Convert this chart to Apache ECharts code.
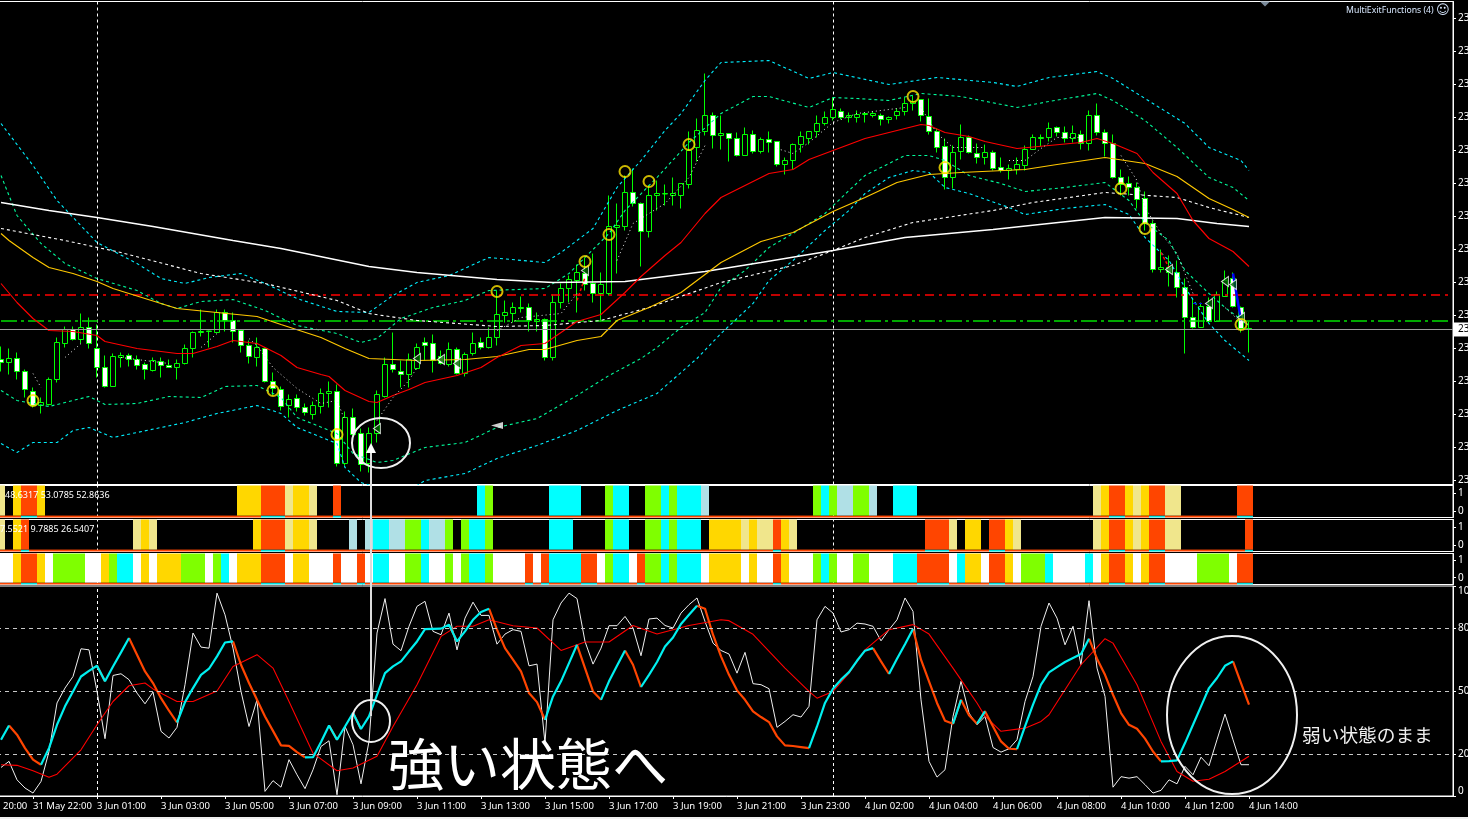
<!DOCTYPE html>
<html><head><meta charset="utf-8">
<style>html,body{margin:0;padding:0;background:#000;overflow:hidden}#c{width:1468px;height:819px}</style>
<script src="https://cdn.jsdelivr.net/npm/echarts@6/dist/echarts.min.js"></script>
</head><body><div id="c"></div>
<script>
// 15-minute bars, index 0..156; prices are in chart points above the panel floor (the reference's price labels are cut off at "23")
const candles=[[123,120,111,136],[120,124,108,134],[124,111,103,130],[111,93,85,113],[91,77,75,95],[77,80,69,85],[78,103,77,105],[103,140,100,145],[139,153,135,156],[153,143,142,156],
[143,155,139,169],[155,139,134,165],[134,115,105,158],[115,96,95,127],[96,126,96,129],[125,127,115,130],[127,123,116,129],[123,117,113,127],[118,113,103,120],[112,122,111,125],
[121,117,105,125],[117,115,115,123],[115,119,103,123],[119,134,118,138],[134,150,125,151],[150,151,146,173],[151,151.5,135,152],[150,170,150,173],[170,162,151,173],[162,151,140,170],
[152,137,130,153],[137,126,119,142],[125,135,116,145],[134,101,100,135],[101,94,87,110],[93,76,72,96],[77,83,65,88],[84,75,71,88],[75,70,67,79],[68,77,63,81],
[76,89,69,94],[89,91,75,101],[91,19,16,98],[19,65,17,71],[65,48,45,74],[49,18,11,54],[19,49,10,55],[49,88,40,92],[86,118,85,125],[118,113,110,150],
[111,108,95,122],[108,123,95,129],[114,135,113,139],[140,137,122,145],[139,122,110,148],[126,119,118,132],[118,133,116,140],[133,109,108,135],[109,128,106,130],[129,139,127,150],
[140,135,133,145],[135,145,134,155],[145,168,137,192],[167,170,160,182],[169,175,160,180],[174,175,170,186],[175,162,151,179],[161,163,151,170],[163,125,122,164],[125,180,122,188],
[180,194,174,199],[194,203,180,207],[202,210,170,218],[209,198,192,225],[199,189,180,229],[189,198,161,210],[189,256,187,287],[255,257,209,279],[256,290,252,307],[290,279,276,314],
[279,251,216,280],[251,287,245,297],[287,289,272,302],[288.5,289,277,298],[287,289,277,305],[287,299,274,299],[298,332,294,351],[335,352,321,364],[351,367,347,409],[367,347,334,370],
[347,349,333,367],[349,344,321,349],[344,327,326,350],[327,348,327,355],[348,331,329,352],[331,343,329,345],[343,340,330,351],[341,318,316,341],[318,322,308,325],[322,338,313,339],
[338,346,330,351],[344,351,338,351],[351,359,345,367],[359,365,357,371],[365,373,362,385],[371,365,363,374],[365,367,360,370],[365,368,360,372],[368,369,360,369.5],[367,369,365,371],
[367,363,357,369],[363,365,359,366],[367,371,363,374],[371,379,367,385],[379,381,372,387],[383,367,361,383],[366,351,348,384],[351,335,330,354],[336,305,293,344],[305,330,294,337],
[331,345,323,358],[345,330,329,347],[329,325,319,339],[325,330,318,338],[330,314,312,332],[315,312,310,325],[312,314,303,318],[313,318,308,325],[317,333,312,337],[333,345,333,348],
[344,345,336,348],[345,354,341,360],[355,350,346,356],[350,344,340,356],[344,349,340,357],[348,339,333,352],[339,367,332,372],[367,350,347,379],[350,339,326,353],[339,305,304,348],
[305,298,287,313],[299,295,287,306],[295,283,274,300],[284,259,252,291],[259,213,210,262],[213,215,210,233],[215,210,196,227],[210,195,185,222],[195,165,129,204],[165,155,154,184],
[155,176,155,180],[176,161,161,185],[161,188,161,191],[186,202,186,212],[204,176,175,210],[175,154,150,176],[154,153,130,161]];

// moving averages and bands: [bar, price] readings
const maRed=[[0,199],[2,180],[4,164],[6,152],[9,151],[12,147],[13,141],[17,134],[22,129],[24,129],[27,136],[29,142],[32,139],[35,127],[37,115],[40,108],[41,106],[43,92],[46,81],[47,80],[49,87],[51,93],[53,100],[57,107],[60,115],[62,125],[65,137],[68,139],[72,161],[75,168],[78,190],[80,206],[83,227],[85,240],[88,269],[90,285],[94,301],[96,309],[99,313],[101,323],[104,332],[108,344],[112,352],[115,358],[116,357],[118,350],[121,346],[123,341],[127,334],[131,337],[135,340],[137,344],[139,339],[142,329],[144,310],[147,289],[149,262],[151,244],[154,231],[156,216]];
const maGold=[[0,249],[1,242],[4,225],[6,215],[9,209],[12,201],[14,194],[18,184],[22,174],[27,170],[32,166],[35,158],[40,145],[43,134],[46,124],[52,122],[58,123],[62,126],[66,133],[68,133],[72,142],[75,146],[77,162],[81,175],[85,190],[90,220],[95,241],[99,250],[104,271],[108,285],[112,300],[116,308],[120,310],[128,313],[132,318],[138,325],[143,319],[147,306],[151,284],[154,273],[156,265]];
const maWhite=[[0,280],[6,272],[12,265],[19,256],[29,242],[35,234],[46,216],[52,210],[62,203],[69,200],[78,201],[88,211],[95,220],[104,232],[113,245],[124,253],[131,259],[138,265],[147,264],[152,259],[156,256]];
const maWhiteDash=[[0,254],[8,242],[15,230],[25,209],[33,199],[42,182],[46,169],[52,162],[62,156],[68,157],[75,162],[81,175],[90,200],[99,217],[104,232],[108,245],[114,260],[124,272],[129,280],[138,290],[147,285],[151,275],[156,265]];
const bandUpGreen=[[0,307],[2,267],[5,239],[8,219],[12,204],[17,192],[20,179],[22,174],[25,181],[29,183],[33,172],[37,157],[42,149],[45,140],[47,144],[50,164],[54,175],[58,182],[61,192],[68,194],[71,209],[76,249],[78,272],[81,297],[82,305],[86,340],[90,369],[94,386],[96,386],[101,375],[104,385],[107,384],[111,382],[115,389],[120,386],[127,375],[131,381],[137,389],[139,382],[143,362],[147,335],[151,305],[154,295],[156,282]];
const bandUpCyan=[[0,359],[4,317],[7,282],[12,240],[17,219],[20,204],[23,199],[26,205],[30,209],[33,199],[37,184],[42,171],[46,170],[49,187],[52,200],[56,207],[61,225],[68,220],[70,230],[74,254],[77,295],[80,322],[83,352],[85,369],[88,402],[90,420],[96,422],[101,404],[104,410],[111,398],[117,405],[124,400],[127,396],[131,405],[137,411],[139,404],[144,379],[148,359],[151,335],[155,322],[156,312]];
const bandLowGreen=[[0,92],[2,82],[6,76],[11,86],[13,78],[17,79],[21,86],[25,85],[28,96],[32,97],[35,85],[37,65],[42,49],[44,29],[47,20],[49,22],[53,35],[58,40],[62,55],[67,64],[72,87],[76,107],[80,124],[82,135],[85,155],[88,170],[90,195],[93,212],[96,235],[99,249],[103,269],[106,292],[108,307],[113,327],[116,327],[118,322],[121,307],[125,299],[128,291],[133,295],[138,300],[141,282],[143,260],[146,242],[148,212],[151,189],[153,175],[156,157]];
const bandLowCyan=[[0,39],[2,30],[4,40],[7,40],[9,52],[11,55],[14,45],[17,50],[23,60],[27,69],[32,77],[35,69],[37,55],[42,39],[43,15],[45,0],[50,-13],[53,2],[58,9],[62,24],[67,37],[72,52],[77,72],[82,89],[87,124],[90,149],[94,179],[96,202],[99,222],[103,252],[106,272],[108,289],[111,305],[114,312],[116,310],[118,295],[121,289],[126,275],[128,268],[133,274],[138,278],[141,268],[143,245],[146,222],[148,195],[151,159],[153,142],[156,122]];
const fastDotsRuns=[[[4,109],[5,95]],[[8,125],[10,139]],[[15,125],[21,119]],[[25,135],[27,149]],[[31,144],[32,137],[34,115],[37,94],[40,79],[42,82],[43,62]],[[47,62],[49,85],[51,102],[52,115]],[[62,152],[65,165],[70,169],[72,189]],[[77,222],[79,259],[83,279],[86,305],[88,337]],[[97,334],[99,329],[101,340],[104,360],[107,369],[113,375]],[[115,375],[117,349],[119,335],[123,335]],[[126,322],[128,322],[130,334],[132,345],[135,345]],[[140,327],[142,302],[143,275],[145,249],[147,229],[149,189]],[[153,175],[155,160]]];
const zigBlue=[[154,209],[155,162]], zigBlueLow=[[149,179],[151,179]], zigRedA=[[72,182],[73,205]], zigRedB=[[145,230],[146,215]];
const yellowRings=[[4,82],[34,92],[42,48],[62,191],[73,221],[76,248],[78,311],[81,301],[86,338],[114,386],[118,315],[140,294],[143,254],[155,158]];
const smallArrows=[[47,54],[52,124],[55,123],[57,119],[73,212],[146,213],[151,179],[153,201],[154,198],[155,165]];
const bigArrow=[[62,57]];
const levelRed=187.5, levelGreen=161.5, levelLast=153;
const priceTicks=[464,431,398,365,332,299,266,233,200,167,134,101,68,35,2];
const priceTickText='23';

// strips: run-length state per bar. K khaki, G gold, R orange-red, L lime, C cyan, B powder blue, W white, . none
const strip1Runs=".0 K1 .1 G1 R2 G1 .24 G3 R3 K1 G2 K1 .2 R1 .17 C1 L1 .7 C4 .3 L1 C2 .2 L2 C1 L1 C3 B1 .13 L1 C1 L1 B2 L2 B1 .2 C3 .22 K1 G1 R2 G1 K1 G1 R2 K2 .7 R2";
const strip2Runs="K1 .1 G1 R1 .13 K1 G1 K1 .12 G1 R3 K1 G2 K1 .4 B1 .1 B1 C2 B2 L2 C1 B2 L1 .1 L1 C2 L1 .7 C3 .4 L1 C2 .2 L2 C1 L1 C3 .1 G4 K1 G1 K2 R1 G1 K1 .16 R3 K1 .1 G2 .1 R2 G1 K1 .9 K1 G1 R2 G1 K1 G1 R2 K2 .8 R1";
const strip3Runs="W2 G1 R2 G1 W1 L4 W2 G1 L1 C2 W1 G1 W1 G3 L3 W1 L1 C1 W1 G3 R3 W1 G2 W3 R1 W2 R1 W1 C2 W2 L2 C1 W2 L1 W1 L1 C2 L1 W4 R1 W1 R1 C4 R2 W1 L1 C2 W1 R1 L2 C1 L1 C3 W1 G4 W1 G1 W2 R1 G1 W3 L1 C1 L1 W2 L2 W3 C3 R4 W1 C1 G2 W1 R2 G1 W1 L3 C1 W4 C1 W1 G1 R2 G1 W1 G1 R2 W4 L4 W1 R2";
const stripText1='48.6317 53.0785 52.8636', stripText2='7.5521 9.7885 26.5407';

// stochastic panel
const stochWhite=[13.6,16.5,7.7,3.8,1.4,6.9,21.2,44.3,51.4,56.9,70.1,69.6,49.8,27.3,57.4,58.2,55.4,49,43.9,49.5,30.8,27.6,32.7,53,77.6,70.9,70.4,96.6,86.3,70.4,49.8,33.1,45.8,2.2,7.3,4.2,17.3,10.1,3.5,12.5,23.6,26.3,0.6,33.1,24.4,5.8,26,77.6,94,72.3,69.2,80.8,90.3,92.7,78.4,76.8,87.1,69.6,84.7,92.3,86,86,72.3,77.1,79.2,78.4,62,62.8,25.2,83.9,91.9,96.6,94,73.6,62.8,70.4,81.1,81.1,85.5,80,66.8,84.3,84.7,81.2,80,87.1,91.1,94.3,83.1,72.8,69.3,67.6,58.5,68.4,53.5,53,51.1,32.7,35.5,38.7,37.6,42.7,83.9,90.3,87.1,78.1,79.2,82.3,81.9,80.8,73.9,79.2,83.9,94.3,87.9,45.8,16.5,9,12.5,37.9,54.6,39.5,33.9,37.9,23.1,20.9,22.5,26.8,45,56.9,80.8,91.9,84.7,72,80.8,62.5,93,60.9,47.4,4.2,9.2,8.5,9.2,5.4,1.4,2.7,7.7,5.8,14.1,10.1,18.5,14.4,26.8,39,26.8,14.9,14.9];
const stochSignal=[26.8,33.6,29.2,22.8,17.3,14.9,22.8,33.9,42.7,49.8,56.9,59.6,62,54.6,61.7,68.4,75.2,67.3,59.3,53.8,46.6,40.6,35,44.7,51.4,57.7,60.6,66.5,73.1,73.6,62.5,53.8,45.8,37.9,31,24.1,23.9,20.9,18.4,18.5,25.7,33.6,26.8,33.1,39.5,31.9,37.9,48.2,58.5,61.7,64.1,68.9,73.6,79.5,79.6,79.7,81.6,73.6,78.4,83.9,87.6,89.2,79.2,70.4,64.9,59.3,49,44.7,36.3,47.4,54.6,63.3,72,60.9,49.8,45.8,54.6,62,69.3,62.5,51.9,57.7,63.8,71.2,75.5,81.9,86.3,90.6,89.2,76.8,66.5,57.7,50.3,45.8,40.3,37.6,35.2,28.4,24.1,23.8,23.3,22.8,33.1,44.3,51.1,55.4,59,64.4,69.2,70.4,64.1,58.1,65.4,72.3,79.5,64.9,54.6,44.3,35.8,34.4,45.8,38.4,34.4,40.3,33.1,26,22.5,22.3,33.1,43.5,53,58.9,61.4,63.8,65.7,67.6,74.9,65.4,57.7,48.2,39.5,33.9,32,27.3,21.2,16.5,16.6,17,25.2,33.9,42.7,51.4,56.2,62,64.1,53.8,43.5];
const stochSlow=[[0,14.9],[2,14.6],[4,12],[6,8.9],[7,10.4],[10,22],[12,33.9],[14,45],[16,52.5],[18,53.8],[19,51],[22,45],[24,45],[27,50],[29,61.7],[32,67.3],[34,60.9],[36,45],[39,20.4],[42,12],[44,13.3],[47,18.9],[49,33.1],[52,53],[55,76],[57,80.8],[59,80.8],[61,83.9],[62,83],[64,81.1],[67,80],[70,69.3],[73,73.3],[76,73.3],[79,81.2],[82,77.1],[86,81.2],[90,83.9],[91,83.5],[94,77],[98,60.9],[101,49.8],[102,46.6],[104,49.8],[106,58.5],[108,69.6],[111,79.2],[114,81.6],[116,77.1],[119,60.9],[121,49.8],[122,44.3],[123,38],[125,30.8],[128,32.3],[130,35.5],[131,38.7],[135,62.5],[138,74.9],[139,72.8],[142,53],[145,26],[147,11.7],[149,7],[151,8],[153,11.7],[156,18.9]];
const stochLevels=[80,50,20];
const stochTicks=[0,20,50,80,100];

// time axis
const barSlots=182;
const timeLabels={4:'31 May 22:00',12:'3 Jun 01:00',20:'3 Jun 03:00',28:'3 Jun 05:00',36:'3 Jun 07:00',44:'3 Jun 09:00',52:'3 Jun 11:00',60:'3 Jun 13:00',68:'3 Jun 15:00',76:'3 Jun 17:00',84:'3 Jun 19:00',92:'3 Jun 21:00',100:'3 Jun 23:00',108:'4 Jun 02:00',116:'4 Jun 04:00',124:'4 Jun 06:00',132:'4 Jun 08:00',140:'4 Jun 10:00',148:'4 Jun 12:00',156:'4 Jun 14:00'};
const dayBreaks=[12,104];

const FONT='"Noto Sans"';
const CJK='"Noto Sans CJK JP"';
const palette={K:'#f0e68c',G:'#ffd700',R:'#ff4500',L:'#7fff00',C:'#00ffff',B:'#b0e0e6',W:'#ffffff','.':'#000000'};
const expand=s=>s.trim().split(/\s+/).flatMap(t=>Array(+t.slice(1)).fill(t[0]));
const categories=Array.from({length:barSlots},(_,i)=>String(i));

const panels=[{top:1.5,height:483},{top:485.5,height:32},{top:519.5,height:32},{top:553.5,height:31},{top:586,height:210}];
const grid=panels.map(p=>({left:-3,width:1456,top:p.top,height:p.height,show:true,backgroundColor:'#000',borderColor:'#fff',borderWidth:1,containLabel:false,outerBoundsMode:'none'}));
const xAxis=panels.map((p,i)=>({gridIndex:i,type:'category',data:categories,boundaryGap:true,show:i===4,
  axisLine:{lineStyle:{color:'#fff'}},
  axisTick:{show:i===4,alignWithLabel:true,length:3,interval:k=>timeLabels[k]!==undefined,lineStyle:{color:'#fff'}},
  axisLabel:{show:i===4,interval:k=>timeLabels[k]!==undefined,formatter:(v)=>timeLabels[v]||'',align:'left',color:'#fff',fontFamily:FONT,fontSize:9.5,margin:5},
  splitLine:{show:false}}));
const tickStyle={show:true,length:3,lineStyle:{color:'#fff'}};
const yAxis=[
 {gridIndex:0,type:'value',position:'right',min:-2,max:481,scale:true,splitLine:{show:false},axisLine:{show:true,lineStyle:{color:'#fff'}},
  axisTick:{...tickStyle,customValues:priceTicks},axisLabel:{customValues:priceTicks,formatter:()=>priceTickText,color:'#fff',fontFamily:FONT,fontSize:10,margin:5}}
];
const stripAxes=[[-0.38,1.44],[-0.38,1.44],[-0.4,1.42]];
stripAxes.forEach((r,i)=>{
  yAxis.push({gridIndex:i+1,type:'value',position:'right',min:r[0],max:r[1],splitLine:{show:false},axisLine:{show:true,lineStyle:{color:'#fff'}},
    axisTick:{...tickStyle,customValues:[0,1]},axisLabel:{customValues:[0,1],formatter:v=>String(Math.round(v)),color:'#fff',fontFamily:FONT,fontSize:10,margin:5}});
});
yAxis.push({gridIndex:4,type:'value',position:'right',min:0,max:100,splitLine:{show:false},axisLine:{show:true,lineStyle:{color:'#fff'}},
  axisTick:{...tickStyle,customValues:stochTicks},axisLabel:{customValues:stochTicks,color:'#fff',fontFamily:FONT,fontSize:10,margin:5,verticalAlignMinLabel:'bottom',verticalAlignMaxLabel:'top'}});
// hidden 0..1 axes that carry the strip bars (indices 5,6,7)
[1,2,3].forEach(g=>yAxis.push({gridIndex:g,type:'value',min:0,max:1,show:false,splitLine:{show:false}}));

const line=(data,color,extra={})=>Object.assign({type:'line',xAxisIndex:0,yAxisIndex:0,data,showSymbol:false,silent:true,animation:false,z:3,
  lineStyle:{color,width:1,type:'solid'}},extra);
const dashed=(data,color)=>line(data,color,{lineStyle:{color,width:1.1,type:[3,3]}});

const series=[];
// day-break verticals under everything
panels.forEach((p,i)=>{
  const yi=i===0?0:(i===4?4:i);
  series.push({type:'line',xAxisIndex:i,yAxisIndex:yi,data:[],z:1,silent:true,animation:false,
    markLine:{silent:true,symbol:'none',animation:false,z:1,label:{show:false},lineStyle:{color:'#fff',type:[3,3],width:1},data:dayBreaks.map(k=>({xAxis:String(k)}))}});
});
series.push({type:'candlestick',xAxisIndex:0,yAxisIndex:0,data:candles,barWidth:5,silent:true,animation:false,z:2,
  itemStyle:{color:'#000',color0:'#fff',borderColor:'#00ff00',borderColor0:'#00ff00',borderColorDoji:'#00ff00',borderWidth:1},
  markLine:{silent:true,symbol:'none',animation:false,precision:1,
    data:[
     {yAxis:levelLast,lineStyle:{color:'#9a9a9a',type:'solid',width:1},
      label:{show:true,position:'end',formatter:priceTickText,backgroundColor:'#fff',color:'#000',fontFamily:FONT,fontSize:10,padding:[2,6,2,4],distance:1}}
    ],label:{show:false}}});
// horizontal level lines across the panel
series.push(line([[0,levelRed],[barSlots-1,levelRed]],'#ff0000',{lineStyle:{color:'#ff0000',width:1.7,type:[9,5,3,5]}}));
series.push(line([[0,levelGreen],[barSlots-1,levelGreen]],'#00e000',{lineStyle:{color:'#00e000',width:1.7,type:[16,4,3,4]}}));
series.push(dashed(bandUpCyan,'#00f0ff'),dashed(bandLowCyan,'#00f0ff'),dashed(bandUpGreen,'#00fa9a'),dashed(bandLowGreen,'#00fa9a'));
series.push(dashed(maWhiteDash,'#ffffff'));
series.push(line(maWhite,'#ffffff',{lineStyle:{color:'#fff',width:1.5}}));
series.push(line(maGold,'#ffc800',{lineStyle:{color:'#ffc800',width:1.15}}));
series.push(line(maRed,'#ff0000',{lineStyle:{color:'#ff0000',width:1.15}}));
series.push(line(fastDotsRuns.flatMap(r=>[...r,[r[r.length-1][0],'-']]),'#e8e8e8',{connectNulls:false,lineStyle:{color:'#e8e8e8',width:1,type:[1,3]}}));
series.push(line(zigBlue,'#0000ff',{lineStyle:{color:'#0000ff',width:2.5}}));
series.push(line(zigBlueLow,'#0000ff',{lineStyle:{color:'#0000ff',width:1,type:[3,3]}}));
series.push(line(zigRedA,'#ff0000',{lineStyle:{color:'#ff0000',width:1.5,type:[3,2]}}));
series.push(line(zigRedB,'#ff0000',{lineStyle:{color:'#ff0000',width:1.5,type:[3,2]}}));
series.push({type:'scatter',xAxisIndex:0,yAxisIndex:0,data:smallArrows,symbol:'triangle',symbolRotate:90,symbolSize:[10,7],silent:true,animation:false,z:4,
  itemStyle:{color:'#006400',borderColor:'#fff',borderWidth:1}});
series.push({type:'scatter',xAxisIndex:0,yAxisIndex:0,data:bigArrow,symbol:'triangle',symbolRotate:90,symbolSize:[7,12],silent:true,animation:false,z:4,
  itemStyle:{color:'#fff'}});
series.push({type:'scatter',xAxisIndex:0,yAxisIndex:0,data:yellowRings,symbol:'circle',symbolSize:11,silent:true,animation:false,z:5,
  itemStyle:{color:'rgba(0,0,0,0)',borderColor:'#ffe600',borderWidth:2}});

// strips
[strip1Runs,strip2Runs,strip3Runs].forEach((runs,i)=>{
  const cells=expand(runs);
  const base={type:'bar',xAxisIndex:i+1,yAxisIndex:5+i,stack:'s'+i,barWidth:8,silent:true,animation:false,z:2};
  series.push({...base,data:cells.map(c=>({value:0.06,itemStyle:{color:c==='R'?'#00e0e0':'#ff4500'}}))});
  series.push({...base,data:cells.map(c=>({value:0.94,itemStyle:{color:palette[c],opacity:c==='.'?0:1}}))});
});

// stochastic
const signalUp=stochSignal.map((v,i,a)=>((i>0&&v>a[i-1])||(i<a.length-1&&a[i+1]>v))?v:null);
const signalDown=stochSignal.map((v,i,a)=>((i>0&&v<=a[i-1])||(i<a.length-1&&a[i+1]<=v))?v:null);
const st={xAxisIndex:4,yAxisIndex:4};
series.push({type:'line',...st,data:[],z:1,silent:true,animation:false,
  markLine:{silent:true,symbol:'none',animation:false,label:{show:false},lineStyle:{color:'#c8c8c8',type:[4,4],width:1},data:stochLevels.map(v=>({yAxis:v}))}});
series.push(line(stochWhite,'#fff',{...st,lineStyle:{color:'#f0f0f0',width:1}}));
series.push(line(stochSlow,'#ff0000',{...st,lineStyle:{color:'#ff0000',width:1.1}}));
series.push(line(signalDown,'#ff4500',{...st,z:4,lineStyle:{color:'#ff4500',width:2.2}}));
series.push(line(signalUp,'#00ffff',{...st,z:5,lineStyle:{color:'#00f0f0',width:2.2}}));

const graphic=[
 {type:'rect',z:100,shape:{x:0,y:817,width:1468,height:2},style:{fill:'#f0f0f0'}},
 {type:'text',z:100,x:1346,y:11,style:{text:'MultiExitFunctions (4)',fill:'#d8e8ff',font:'8.7px "Noto Sans"',verticalAlign:'middle'}},
 {type:'text',z:100,x:1436,y:11,style:{text:'\u263A',fill:'#d8e8ff',font:'13px "DejaVu Sans"',verticalAlign:'middle'}},
 {type:'polygon',z:100,shape:{points:[[1260,1.5],[1270,1.5],[1265,6.5]]},style:{fill:'#7a8a9a'}},
 {type:'text',z:100,x:5,y:495,style:{text:stripText1,fill:'#fff',font:'9px "Noto Sans"',verticalAlign:'middle'}},
 {type:'text',z:100,x:0,y:529,style:{text:stripText2,fill:'#fff',font:'9px "Noto Sans"',verticalAlign:'middle'}},
 {type:'text',z:100,x:3,y:806,style:{text:'20:00',fill:'#fff',font:'9.5px '+FONT,verticalAlign:'middle'}},
 {type:'line',z:100,shape:{x1:371,y1:452,x2:371,y2:716},style:{stroke:'#dcdcdc',lineWidth:2}},
 {type:'polygon',z:100,shape:{points:[[366,453],[376,453],[371,443]]},style:{fill:'#fff'}},
 {type:'ellipse',z:100,shape:{cx:381,cy:443,rx:29,ry:25},style:{fill:'none',stroke:'#f0f0f0',lineWidth:2}},
 {type:'ellipse',z:100,shape:{cx:371,cy:721,rx:19,ry:21},style:{fill:'none',stroke:'#f0f0f0',lineWidth:2}},
 {type:'ellipse',z:100,shape:{cx:1232,cy:715,rx:65,ry:79},style:{fill:'none',stroke:'#f0f0f0',lineWidth:2}},
 {type:'text',z:100,x:388,y:764,style:{text:'強い状態へ',fill:'#fff',font:'56px '+CJK,verticalAlign:'middle'}},
 {type:'text',z:100,x:1302,y:735,style:{text:'弱い状態のまま',fill:'#f0f0f0',font:'18.7px '+CJK,verticalAlign:'middle'}}
];

const chart=echarts.init(document.getElementById('c'),null,{renderer:'canvas',width:1468,height:819});
chart.setOption({backgroundColor:'#000',animation:false,grid,xAxis,yAxis,series,graphic});
</script></body></html>
